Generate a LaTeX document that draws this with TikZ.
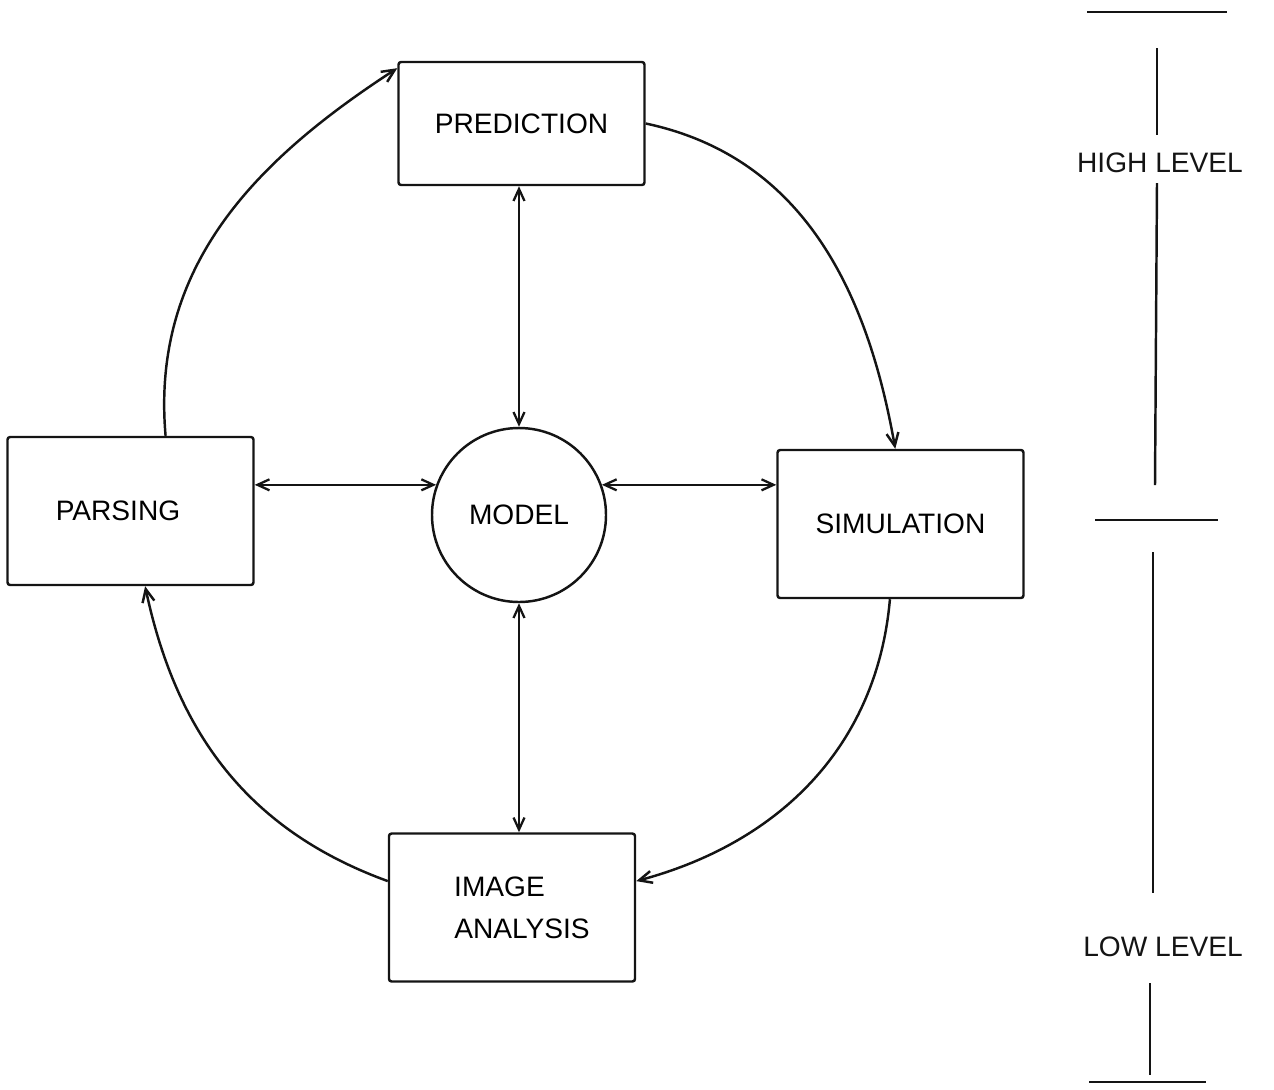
\documentclass[tikz,border=0pt]{standalone}
\usepackage{fontspec}
\setmainfont{Liberation Sans}
\usetikzlibrary{arrows.meta,positioning}
\definecolor{penink}{HTML}{141414}
\tikzset{
  bx/.style={draw=penink, line width=1.4pt, rounded corners=1.5pt, align=center, font=\fontsize{16}{19}\selectfont, inner sep=2pt},
  blk/.style={bx, minimum width=49.2mm, minimum height=29.6mm},
  mdl/.style={bx, circle, minimum size=34.8mm},
  arr/.style={-{Straight Barb[length=2.6mm, width=2.4mm]}, line width=1.4pt, color=penink},
  arr2/.style={{Straight Barb[length=2.4mm, width=2.2mm]}-{Straight Barb[length=2.4mm, width=2.2mm]}, line width=1.3pt, color=penink},
  tick/.style={line width=1.4pt, color=penink},
  lbl/.style={font=\fontsize{16}{19}\selectfont, color=penink},
}

\begin{document}
\begin{tikzpicture}[x=0.2mm, y=-0.2mm]
  \useasboundingbox (0,0) rectangle (1274,1089);
  % the four stages round the model
  \node[blk, minimum height=24.6mm] (pred) at (521.5,123.5) {PREDICTION};
  \node[blk] (pars) at (130.5,511) {PARSING\hspace*{5mm}};
  \node[blk] (sim) at (900.5,524) {SIMULATION};
  \node[blk] (img) at (512,907.5) {\hspace*{-5mm}IMAGE\\[5pt]\hspace*{4mm}ANALYSIS};
  \node[mdl] (model) at (519,515) {MODEL};
  % spokes
  \draw[arr2] (model.north) -- (model.north |- pred.south);
  \draw[arr2] (model.south) -- (model.south |- img.north);
  \draw[arr2] (model.160) -- (model.160 -| pars.east);
  \draw[arr2] (model.20) -- (model.20 -| sim.west);
  % the cycle
  \draw[arr] (pars.65) to[out=95, in=213] (pred.156);
  \draw[arr] (pred.east) to[out=-12, in=100] (sim.94);
  \draw[arr] (sim.262) to[out=-95, in=15] (img.12);
  \draw[arr] (img.168) to[out=160, in=-78] (pars.281);
  % level scale
  \node[lbl] (high) at (1160,163) {HIGH LEVEL};
  \node[lbl] (low) at (1163,947) {LOW LEVEL};
  \draw[tick] (1087,12) -- (1227,12);
  \draw[tick] (1157,48) -- (1157,135);
  \draw[tick] (1157,183) -- (1155,485);
  \draw[tick] (1095,520) -- (1218,520);
  \draw[tick] (1153,552) -- (1153,893);
  \draw[tick] (1150,983) -- (1150,1075);
  \draw[tick] (1089,1082) -- (1206,1082);
\end{tikzpicture}
\end{document}
